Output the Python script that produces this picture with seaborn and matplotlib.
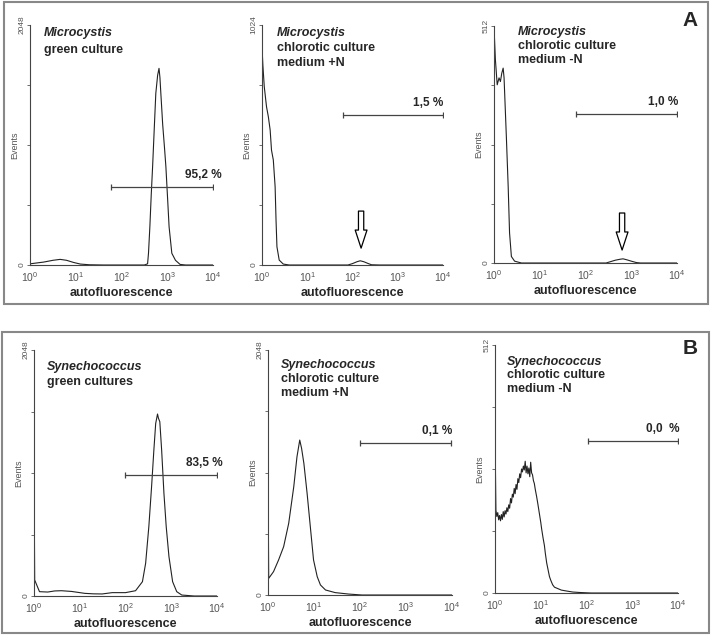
import numpy as np
import pandas as pd
import matplotlib
matplotlib.use('Agg')
import matplotlib.pyplot as plt
import seaborn as sns
from matplotlib.patches import Rectangle

sns.set_style('white')
plt.rcParams['font.family'] = ['Liberation Sans', 'DejaVu Sans']
plt.rcParams['mathtext.fontset'] = 'custom'
plt.rcParams['mathtext.rm'] = 'Liberation Sans'

# histogramas: x em decadas (expoente de 10), y em eventos
a1_log = [0.00, 0.10, 0.30, 0.50, 0.66, 0.80, 0.95, 1.10, 1.30, 1.60, 2.50, 2.57, 2.59, 2.62, 2.65, 2.68,
          2.72, 2.75, 2.79, 2.82, 2.84, 2.86, 2.90, 2.94, 2.97, 3.01, 3.04, 3.10, 3.18, 3.28, 3.40, 4.00]
a1_cnt = [10, 15, 25, 40, 48, 40, 22, 8, 2, 0, 0, 10, 100, 327, 600, 840,
          1200, 1465, 1620, 1678, 1600, 1465, 1200, 1000, 840, 550, 327, 100, 40, 5, 0, 0]

a2_log = [0.00, 0.02, 0.05, 0.10, 0.14, 0.18, 0.21, 0.25, 0.29, 0.31, 0.33, 0.38, 0.47, 0.60, 1.90, 2.00,
          2.10, 2.17, 2.25, 2.35, 2.42, 2.60, 4.00]
a2_cnt = [930, 850, 761, 675, 633, 576, 490, 448, 334, 192, 78, 21, 4, 0, 0, 6,
          14, 18, 14, 6, 1, 0, 0]

a3_log = [0.00, 0.03, 0.07, 0.11, 0.14, 0.17, 0.20, 0.22, 0.27, 0.31, 0.34, 0.38, 0.45, 0.60, 2.45, 2.55,
          2.65, 2.75, 2.82, 2.90, 3.00, 3.11, 3.20, 4.00]
a3_cnt = [510, 440, 385, 400, 392, 410, 421, 400, 273, 165, 65, 14, 4, 0, 0, 3,
          6, 8, 9, 7, 4, 1, 0, 0]

b1_log = [0.00, 0.00, 0.015, 0.12, 0.30, 0.45, 0.60, 0.82, 1.11, 1.30, 1.49, 1.71, 2.00, 2.22, 2.37, 2.44,
          2.51, 2.57, 2.62, 2.66, 2.70, 2.72, 2.75, 2.79, 2.84, 2.89, 2.95, 3.03, 3.12, 3.23, 3.50, 4.00]
b1_cnt = [0, 1060, 133, 36, 33, 42, 44, 38, 22, 18, 17, 28, 28, 44, 119, 272,
          577, 910, 1215, 1437, 1515, 1480, 1451, 1215, 855, 577, 327, 119, 36, 8, 0, 0]

b2_log = [0.00, 0.00, 0.015, 0.12, 0.23, 0.34, 0.45, 0.56, 0.63, 0.69, 0.73, 0.78, 0.85, 0.92, 0.99, 1.07,
          1.14, 1.25, 1.46, 1.75, 2.04, 4.00]
b2_cnt = [0, 1059, 139, 195, 293, 404, 599, 905, 1156, 1295, 1226, 1100, 850, 571, 293, 153,
          84, 42, 20, 8, 0, 0]

b3_log = [0.00, 0.00, 0.02, 0.04, 0.06, 0.08, 0.10, 0.12, 0.14, 0.16, 0.18, 0.20, 0.22, 0.24, 0.26, 0.28,
          0.30, 0.32, 0.34, 0.36, 0.38, 0.40, 0.42, 0.44, 0.46, 0.48, 0.50, 0.52, 0.54, 0.56, 0.58, 0.60,
          0.62, 0.64, 0.66, 0.68, 0.70, 0.72, 0.74, 0.76, 0.78, 0.80, 0.82, 0.84, 0.86, 0.88, 0.91, 0.94,
          0.97, 1.00, 1.02, 1.05, 1.08, 1.10, 1.13, 1.16, 1.19, 1.22, 1.26, 1.30, 1.35, 1.45, 1.57, 1.70,
          1.86, 2.10, 4.00]
b3_cnt = [0, 330, 171, 158, 166, 151, 160, 149, 162, 152, 168, 157, 170, 163, 176, 168,
          182, 175, 195, 186, 204, 198, 216, 205, 224, 214, 236, 228, 246, 238, 256, 250,
          262, 254, 272, 248, 262, 246, 258, 240, 270, 248, 244, 232, 226, 214, 199, 182,
          164, 146, 132, 114, 98, 82, 62, 48, 34, 26, 17, 12, 10, 6, 4, 2,
          1, 0, 0]

ymax = [2048, 1024, 512, 2048, 2048, 512]
organism = ['Microcystis', 'Microcystis', 'Microcystis', 'Synechococcus', 'Synechococcus', 'Synechococcus']
condition = [['green culture'], ['chlorotic culture', 'medium +N'], ['chlorotic culture', 'medium -N'],
             ['green cultures'], ['chlorotic culture', 'medium +N'], ['chlorotic culture', 'medium -N']]
gate_start = [1.76, 1.78, 1.80, 1.99, 2.01, 2.03]
gate_end = [3.99, 3.99, 3.99, 3.99, 3.98, 3.99]
gate_level = [668, 640, 322, 1007, 1268, 314]
gate_label = ['95,2 %', '1,5 %', '1,0 %', '83,5 %', '0,1 %', '0,0  %']
label_right = [4.19, 4.0, 4.02, 4.13, 4.0, 4.04]
arrow_x = [None, 2.19, 2.80, None, None, None]
arrow_tip = [None, 72, 28, None, None, None]
arrow_tail = [None, 230, 108, None, None, None]
x_tick_labels = [r'$10^{0}$', r'$10^{1}$', r'$10^{2}$', r'$10^{3}$', r'$10^{4}$']

series = [(a1_log, a1_cnt), (a2_log, a2_cnt), (a3_log, a3_cnt),
          (b1_log, b1_cnt), (b2_log, b2_cnt), (b3_log, b3_cnt)]

W, H = 711, 635
fig = plt.figure(figsize=(W / 100, H / 100), dpi=100)

# caixas das axes em pixels: x0, x1, ytop, ybottom
boxes = [(30, 213, 25, 265), (262, 443, 25, 265), (494, 677, 26, 263),
         (34, 217, 350, 596), (268, 452, 350, 595), (495, 678, 345, 593)]
text_left = [44, 277, 518, 47, 281, 507]
text_top = [33, 33, 32, 367, 365, 362]
line_step = [17, 15, 14, 15, 14, 13.5]

gray = '#555555'

for i, (xs, ys) in enumerate(series):
    x0, x1, yt, yb = boxes[i]
    ax = fig.add_axes([x0 / W, 1 - yb / H, (x1 - x0) / W, (yb - yt) / H])
    df = pd.DataFrame({'log': xs, 'count': ys})
    sns.lineplot(data=df, x='log', y='count', sort=False, estimator=None,
                 color='#222222', lw=0.8, ax=ax)
    ax.set_xlim(0, 4)
    ax.set_ylim(0, ymax[i])
    for s in ['top', 'right']:
        ax.spines[s].set_visible(False)
    for s in ['left', 'bottom']:
        ax.spines[s].set_color('#444444')
        ax.spines[s].set_linewidth(0.8)

    ax.set_xticks(range(5))
    ax.set_xticklabels(x_tick_labels, fontsize=7.5, color=gray)
    minor = [d + np.log10(k) for d in range(4) for k in range(2, 10)]
    ax.set_xticks(minor, minor=True)
    ax.tick_params(axis='x', which='major', length=3, width=0.6, pad=1, colors=gray, direction='out')
    ax.tick_params(axis='x', which='minor', length=1.5, width=0.5, colors=gray, direction='out')

    ax.set_yticks(np.linspace(0, ymax[i], 5))
    ax.set_yticklabels(['0', '', '', '', str(ymax[i])], rotation=90, fontsize=6, color=gray, va='center')
    ax.tick_params(axis='y', length=2.5, width=0.6, pad=0.5, colors=gray, direction='out', left=True)

    ax.set_ylabel('Events', fontsize=6.5, color=gray, labelpad=0)
    ax.set_xlabel('autofluorescence', fontsize=9, fontweight='bold', labelpad=2)
    ax.grid(False)

    # gate
    ax.plot([gate_start[i], gate_end[i]], [gate_level[i], gate_level[i]], color='#444444', lw=0.9,
            marker='|', markersize=4, markeredgewidth=0.9)
    ax.text(label_right[i], gate_level[i] + ymax[i] * 0.025, gate_label[i], ha='right', va='bottom',
            fontsize=8.5, fontweight='bold', clip_on=False)

    if arrow_x[i] is not None:
        ax.annotate('', xy=(arrow_x[i], arrow_tip[i]), xytext=(arrow_x[i], arrow_tail[i]),
                    arrowprops=dict(arrowstyle='simple,head_length=1.3,head_width=0.85,tail_width=0.38',
                                    fc='white', ec='black', lw=0.9, shrinkA=0, shrinkB=0))

    # titulo dentro do grafico
    tx = text_left[i] / W
    fig.text(tx, 1 - text_top[i] / H, organism[i], fontsize=9, fontweight='bold', style='italic',
             va='center', ha='left')
    for k, line in enumerate(condition[i]):
        fig.text(tx, 1 - (text_top[i] + line_step[i] * (k + 1)) / H, line, fontsize=9,
                 fontweight='bold', va='center', ha='left')

# molduras dos paineis
for (x0, y0, x1, y1) in [(4, 2, 708, 304), (2, 332, 709, 633)]:
    fig.patches.append(Rectangle((x0 / W, 1 - y1 / H), (x1 - x0) / W, (y1 - y0) / H,
                                 transform=fig.transFigure, fill=False, ec='#888888', lw=1.5))

fig.text(690 / W, 1 - 20 / H, 'A', fontsize=15, fontweight='bold', ha='center', va='center')
fig.text(690 / W, 1 - 348 / H, 'B', fontsize=15, fontweight='bold', ha='center', va='center')

plt.savefig('out.png', dpi=100)
